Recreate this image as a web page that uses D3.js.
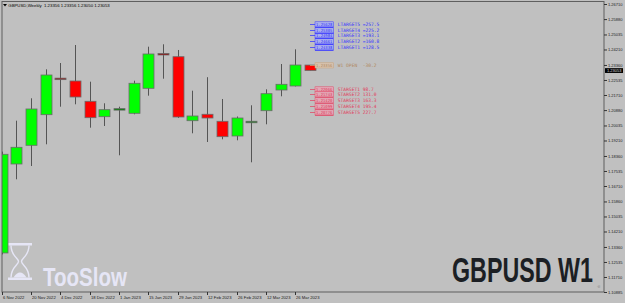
<!DOCTYPE html>
<html>
<head>
<meta charset="utf-8">
<script src="https://cdn.jsdelivr.net/npm/d3@7"></script>
<style>
body { margin: 0; background: #c0c0c0; }
svg { display: block; }
</style>
</head>
<body>
<svg id="chart"></svg>
<script>

// GBPUSD weekly bars
var weeks = ["6 Nov 2022","13 Nov 2022","20 Nov 2022","27 Nov 2022","4 Dec 2022","11 Dec 2022",
    "18 Dec 2022","25 Dec 2022","1 Jan 2023","8 Jan 2023","15 Jan 2023","22 Jan 2023","29 Jan 2023",
    "5 Feb 2023","12 Feb 2023","19 Feb 2023","26 Feb 2023","5 Mar 2023","12 Mar 2023","19 Mar 2023",
    "26 Mar 2023","2 Apr 2023"];
var opens  = [1.13030,1.17919,1.18946,1.20628,1.22620,1.22479,1.21364,1.20518,1.20900,1.20705,1.22078,
    1.23970,1.23814,1.20298,1.20650,1.20265,1.19457,1.20210,1.20847,1.21985,1.22205,1.23356];
var highs  = [1.18600,1.20298,1.21529,1.23122,1.23468,1.24457,1.22441,1.21254,1.21067,1.22496,1.24364,
    1.24496,1.24183,1.21946,1.22688,1.21490,1.20529,1.21144,1.22023,1.23413,1.24221,1.23356];
var lows   = [1.12950,1.17078,1.17809,1.19001,1.21067,1.21199,1.19913,1.20007,1.18397,1.20650,1.21672,
    1.22606,1.20450,1.19606,1.19128,1.19276,1.19221,1.18012,1.20100,1.21639,1.22180,1.23050];
var closes = [1.18452,1.18836,1.20941,1.22809,1.22570,1.21600,1.20463,1.20902,1.20940,1.22353,1.23963,
    1.23930,1.20501,1.20556,1.20446,1.19419,1.20446,1.20240,1.21781,1.22298,1.23358,1.23053];

var dateTicks = ["6 Nov 2022","20 Nov 2022","4 Dec 2022","18 Dec 2022","1 Jan 2023","15 Jan 2023",
    "29 Jan 2023","12 Feb 2023","26 Feb 2023","12 Mar 2023","26 Mar 2023"];
var priceTicks = [1.26710,1.25880,1.25035,1.24210,1.23360,1.22535,1.21710,1.20880,1.20035,1.19210,
    1.18360,1.17535,1.16710,1.15860,1.15035,1.14210,1.13360,1.12535,1.11710,1.10885];

var lastPrice = 1.23053;
var weekOpen = 1.23356, weekOpenPips = -30.2;
var longLevels = [1.24338,1.24661,1.24984,1.25305,1.25628];
var longPips   = [128.5,160.8,193.1,225.2,257.5];
var shortLevels = [1.22066,1.21743,1.21420,1.21099,1.20776];
var shortPips   = [98.7,131.0,163.3,195.4,227.7];

var width = 625, height = 303;
var plotL = 2, plotR = 604, plotT = 1.5, plotB = 292;

var svg = d3.select("#chart")
    .attr("width", width)
    .attr("height", height);

var x = d3.scalePoint()
    .domain(weeks)
    .range([1.5, 1.5 + 14.69 * (weeks.length - 1)]);

var y = d3.scaleLinear()
    .domain([1.10885, 1.26710])
    .range([plotB, 4]);

var bars = weeks.map(function(w, i) {
    return {week: w, o: opens[i], h: highs[i], l: lows[i], c: closes[i]};
});

// condensed text: squeeze a bold face to the wanted width
function squeezed(g, tx, ty, w, font, fill, str) {
    var t = g.append("text")
        .style("font", font)
        .attr("fill", fill)
        .text(str);
    var nat = t.node().getComputedTextLength();
    t.attr("transform", "translate(" + tx + "," + ty + ") scale(" + (w / nat) + ",1)");
    return t;
}

// watermark
var wm = svg.append("g").attr("class", "watermark");
var lav = "#e6e6f6";
wm.append("rect").attr("x", 8).attr("y", 243).attr("width", 24).attr("height", 2.5).attr("fill", lav);
wm.append("rect").attr("x", 8).attr("y", 277.5).attr("width", 24).attr("height", 2.5).attr("fill", lav);
wm.append("path")
    .attr("d", "M11,245.5 C11,256 18.5,258 18.5,261.5 C18.5,265 11,267 11,277.5 " +
               "M29,245.5 C29,256 21.5,258 21.5,261.5 C21.5,265 29,267 29,277.5")
    .attr("fill", "none").attr("stroke", lav).attr("stroke-width", 1.4);
wm.append("path")
    .attr("d", "M13.5,277.5 Q20,267.5 26.5,277.5 Z")
    .attr("fill", lav);
squeezed(wm, 43, 285.5, 84, "bold 25px 'Liberation Sans', Arial, sans-serif", lav, "TooSlow");
squeezed(wm, 452, 282, 141, "bold 35px 'Liberation Sans', Arial, sans-serif", "#1c1f24", "GBPUSD W1");
wm.append("text")
    .attr("transform", "translate(599.5,288) rotate(-90)")
    .style("font", "2.6px 'Liberation Sans', sans-serif")
    .attr("fill", "#888")
    .text("ds");

// candles
svg.append("clipPath").attr("id", "plot")
  .append("rect")
    .attr("x", plotL).attr("y", plotT)
    .attr("width", plotR - plotL).attr("height", plotB - plotT);

var cg = svg.append("g").attr("clip-path", "url(#plot)");

function cx(d) { return Math.round(x(d.week)) + 0.5; }

cg.selectAll(".wick")
    .data(bars)
  .enter().append("line")
    .attr("class", "wick")
    .attr("x1", cx).attr("x2", cx)
    .attr("y1", function(d) { return y(d.h); })
    .attr("y2", function(d) { return y(d.l); })
    .attr("stroke", "#555")
    .attr("stroke-width", 1);

var bw = 11;
cg.selectAll(".body")
    .data(bars)
  .enter().append("rect")
    .attr("class", "body")
    .attr("x", function(d) { return cx(d) - bw / 2; })
    .attr("width", bw)
    .attr("y", function(d) {
        var h = Math.abs(y(d.o) - y(d.c));
        return h < 1.5 ? (y(d.o) + y(d.c)) / 2 - 0.75 : y(Math.max(d.o, d.c));
    })
    .attr("height", function(d) { return Math.max(Math.abs(y(d.o) - y(d.c)), 1.5); })
    .attr("fill", function(d) {
        var doji = Math.abs(y(d.o) - y(d.c)) < 1.5;
        if (d.c >= d.o) return doji ? "#008000" : "#00ff00";
        return doji ? "#990000" : "#ff0000";
    })
    .attr("stroke", "#6a6a6a")
    .attr("stroke-width", 0.8);

// target levels
var blue = {line: "#3c3cff", fill: "#aab0ec", text: "#3434ff"};
var crimson = {line: "#e04c6a", fill: "#e2a8b6", text: "#e03c5c"};
var tan = {line: "#c8a078", fill: "#d6c2ae", text: "#b0885f"};

function drawLevel(price, label, col, underline) {
    var yp = Math.round(y(price)) + 0.5;
    var lg = svg.append("g");
    lg.append("line")
        .attr("x1", 310).attr("x2", 315).attr("y1", yp).attr("y2", yp)
        .attr("stroke", col.line).attr("stroke-width", 0.8);
    lg.append("rect")
        .attr("x", 315).attr("y", yp - 2.7).attr("width", 18.5).attr("height", 5.2)
        .attr("fill", col.fill).attr("stroke", col.line).attr("stroke-width", 0.5);
    if (underline) {
        lg.append("line")
            .attr("x1", 315).attr("x2", 333.5).attr("y1", yp + 2.8).attr("y2", yp + 2.8)
            .attr("stroke", col.line).attr("stroke-width", 1);
    }
    lg.append("text")
        .attr("x", 324.2).attr("y", yp + 1.5)
        .attr("text-anchor", "middle")
        .style("font", "3.9px 'DejaVu Sans Mono', monospace")
        .attr("fill", col.text)
        .text(d3.format(".5f")(price));
    lg.append("text")
        .attr("x", 337.8).attr("y", yp + 1.6)
        .style("font", "4.6px 'DejaVu Sans Mono', monospace")
        .style("white-space", "pre")
        .attr("fill", col.text)
        .text(label);
}

longLevels.forEach(function(p, i) {
    drawLevel(p, "LTARGET" + (i + 1) + " =" + longPips[i].toFixed(1), blue, true);
});
drawLevel(weekOpen, "W1 OPEN  " + weekOpenPips.toFixed(1), tan, false);
shortLevels.forEach(function(p, i) {
    drawLevel(p, "STARGET" + (i + 1) + " " + shortPips[i].toFixed(1), crimson, true);
});

// frame
svg.append("rect")
    .attr("x", plotL).attr("y", plotT)
    .attr("width", plotR - plotL).attr("height", plotB - plotT)
    .attr("fill", "none").attr("stroke", "#5f5f5f").attr("stroke-width", 1);

// price axis
var yAxis = d3.axisRight(y)
    .tickValues(priceTicks)
    .tickSize(3)
    .tickSizeOuter(0)
    .tickPadding(1)
    .tickFormat(d3.format(".5f"));

var ya = svg.append("g")
    .attr("transform", "translate(" + plotR + ",0)")
    .call(yAxis);
ya.select(".domain").remove();
ya.selectAll("line").attr("stroke", "#333");
ya.selectAll("text")
    .style("font", "4px 'Liberation Sans', Arial, sans-serif")
    .attr("fill", "#1a1a1a");

// last price tag
var yl = y(lastPrice);
svg.append("rect")
    .attr("x", 605).attr("y", yl - 2.4).attr("width", 18).attr("height", 4.8)
    .attr("fill", "#000");
svg.append("text")
    .attr("x", 607).attr("y", yl + 1.4)
    .style("font", "4px 'Liberation Sans', Arial, sans-serif")
    .attr("fill", "#dcdcdc")
    .text(d3.format(".5f")(lastPrice));

// date axis
var xAxis = d3.axisBottom(x)
    .tickValues(dateTicks)
    .tickSize(3)
    .tickSizeOuter(0)
    .tickPadding(1.5);

var xa = svg.append("g")
    .attr("transform", "translate(0," + plotB + ")")
    .call(xAxis);
xa.select(".domain").remove();
xa.selectAll(".tick").attr("transform", function(d) { return "translate(" + (Math.round(x(d)) + 0.5) + ",0)"; });
xa.selectAll("line").attr("stroke", "#333");
xa.selectAll("text")
    .attr("text-anchor", "start")
    .attr("x", 0.5)
    .style("font", "4.2px 'Liberation Sans', Arial, sans-serif")
    .attr("fill", "#1a1a1a");

// title
svg.append("path").attr("d", "M3,4 L7,4 L5,6.5 Z").attr("fill", "#000");
svg.append("text")
    .attr("x", 8.3).attr("y", 6.8)
    .style("font", "4.3px 'Liberation Sans', Arial, sans-serif")
    .style("white-space", "pre")
    .attr("fill", "#000")
    .text("GBPUSD,Weekly  " + [opens[21], highs[21], lows[21], closes[21]].map(d3.format(".5f")).join(" "));

</script>
</body>
</html>
